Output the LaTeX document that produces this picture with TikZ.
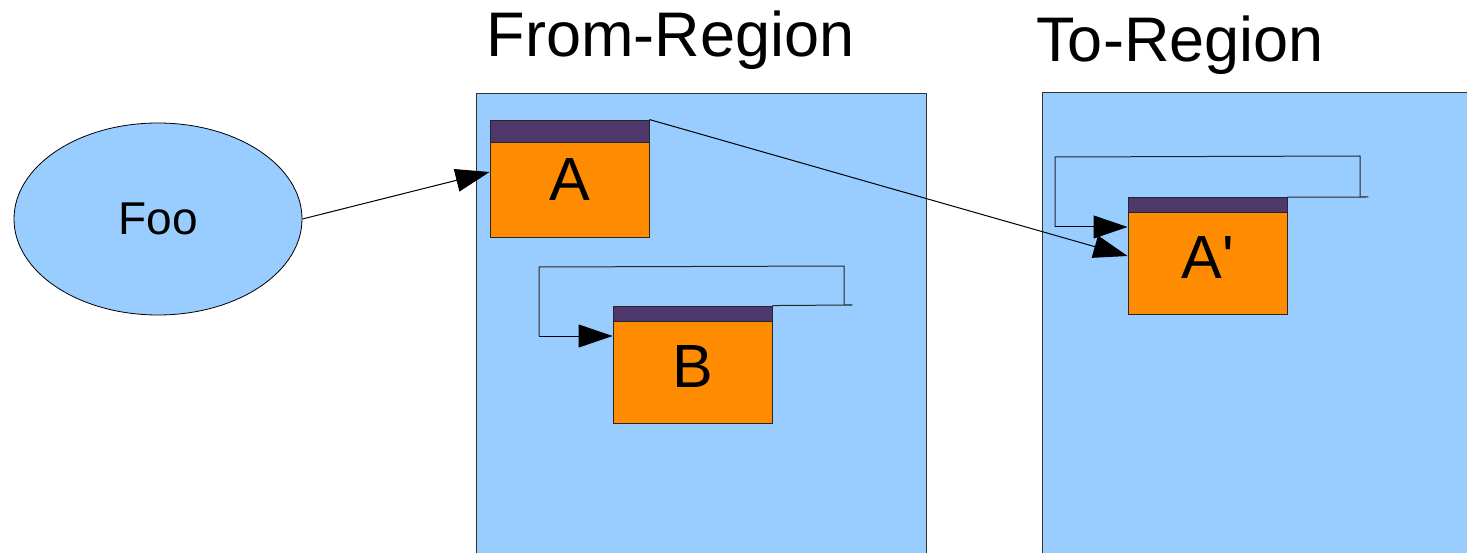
\documentclass[tikz,border=0pt]{standalone}
\usepackage{fontspec}
\setmainfont{Liberation Sans}
\usetikzlibrary{arrows.meta,shapes.geometric}
\definecolor{regionblue}{HTML}{99CCFF}
\definecolor{bodyorange}{HTML}{FF8C00}
\definecolor{headpurple}{HTML}{4D376B}
\definecolor{edgegray}{HTML}{333333}
\tikzset{
  region/.style={draw=edgegray, fill=regionblue, line width=0.9pt, inner sep=0pt},
  title/.style={anchor=base, inner sep=0pt, font=\fontsize{63pt}{63pt}\selectfont},
  objbox/.style={draw=black!85, fill=bodyorange, line width=0.9pt, inner sep=0pt,
    minimum width=159pt, minimum height=117pt,
    text height=45pt, text depth=0pt,
    font=\fontsize{61pt}{61pt}\selectfont,
    path picture={
      \fill[headpurple] (path picture bounding box.north west)
        rectangle ([yshift=-#1]path picture bounding box.north east);
      \draw[black!85, line width=0.9pt] ([yshift=-#1]path picture bounding box.north west)
        -- ([yshift=-#1]path picture bounding box.north east);
    }},
  link/.style={draw=black, line width=1pt, -{Triangle[length=34pt,width=23pt]}},
  loopline/.style={draw=black!85, line width=1pt, line join=round}
}
\begin{document}
\begin{tikzpicture}[x=1pt,y=-1pt]
  \useasboundingbox (0,0) rectangle (1467,553);
  \fill[white] (0,0) rectangle (1467,553);

  % the two regions and their titles
  \node[region, minimum width=450pt, minimum height=470pt] (fromreg) at (701,328) {};
  \node[region, minimum width=440pt, minimum height=470pt] (toreg) at (1262,327) {};
  \node[title] (fromtitle) at (670.5,57) {From-Region};
  \node[title] (totitle) at (1180,62) {To-Region};

  % source object
  \node[ellipse, draw=black, fill=regionblue, line width=0.8pt, inner sep=0pt,
        minimum width=288pt, minimum height=192pt,
        font=\fontsize{46pt}{46pt}\selectfont] (Foo) at (158,219) {Foo};

  % objects
  \node[objbox=22pt] (A) at (569.5,178.5) {A};
  \node[objbox=15pt] (B) at (692.5,364.5) {B};
  \node[objbox=15pt] (A2) at (1207.5,256) {A\textquotesingle};

  % references
  \draw[link] (Foo.east) -- ([yshift=6.5pt]A.west);
  \draw[link] (A.north east) -- (A2.west);

  % self reference of B
  \coordinate (bIn) at ([yshift=28.5pt]B.west);
  \coordinate (bEnd) at (852,305);
  \coordinate (bTurn) at (844,305);
  \coordinate (bTop) at (844,266);
  \coordinate (bLeft) at (539,267);
  \coordinate (bCorner) at (bLeft |- bIn);
  \draw[loopline] (B.north east) -- (bEnd) -- (bTurn);
  \draw[loopline] (bTurn) -- (bTop) -- (bLeft) -- (bCorner);
  \draw[link] (bCorner) -- (bIn);

  % self reference of A'
  \coordinate (aIn) at ([yshift=29pt]A2.west);
  \coordinate (aEnd) at (1368,197);
  \coordinate (aTurn) at (1360,197);
  \coordinate (aTop) at (1360,156);
  \coordinate (aLeft) at (1055,157);
  \coordinate (aCorner) at (aLeft |- aIn);
  \draw[loopline] (A2.north east) -- (aEnd) -- (aTurn);
  \draw[loopline] (aTurn) -- (aTop) -- (aLeft) -- (aCorner);
  \draw[link] (aCorner) -- (aIn);
\end{tikzpicture}
\end{document}
